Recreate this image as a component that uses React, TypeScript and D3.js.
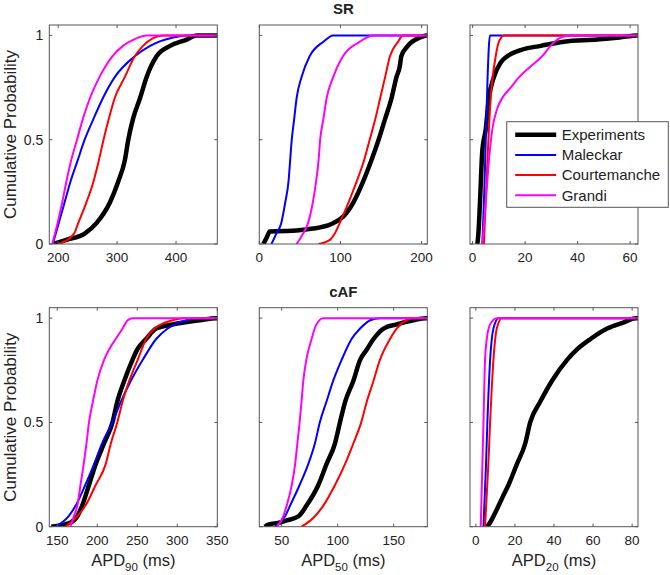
import React from "react";
import * as d3 from "d3";

type Pt = [number, number];

const seriesNames = ["Experiments", "Maleckar", "Courtemanche", "Grandi"];
const seriesColors = ["#000000", "#0000ff", "#ff0000", "#ff00ff"];
const probTicks = [0, 0.5, 1];
const probTickLabels = ["0", "0.5", "1"];
const rowTitles = ["SR", "cAF"];
const apdSubscripts = ["90", "50", "20"];
const yAxisTitle = "Cumulative Probability";

// x domains and ticks
const srApd90Domain = [185, 470];
const srApd90Ticks = [200, 300, 400];
const srApd50Domain = [0, 207];
const srApd50Ticks = [0, 100, 200];
const srApd20Domain = [-1, 63];
const srApd20Ticks = [0, 20, 40, 60];
const cafApd90Domain = [140, 350];
const cafApd90Ticks = [150, 200, 250, 300, 350];
const cafApd50Domain = [30, 180];
const cafApd50Ticks = [50, 100, 150];
const cafApd20Domain = [-3, 83];
const cafApd20Ticks = [0, 20, 40, 60, 80];

// SR APD90
const srApd90Exp: Pt[] = [[192, 0], [214, 0.02], [245, 0.05], [265, 0.1], [288, 0.2], [302, 0.3], [313, 0.4], [319, 0.5], [327, 0.6], [339, 0.7], [350, 0.8], [367, 0.9], [390, 0.95], [418, 0.98], [435, 1]];
const srApd90Mal: Pt[] = [[191, 0], [201, 0.1], [211, 0.2], [221, 0.3], [233, 0.4], [245, 0.5], [260, 0.6], [276, 0.7], [296, 0.8], [330, 0.9], [356, 0.95], [395, 0.99], [418, 1]];
const srApd90Cou: Pt[] = [[200, 0], [227, 0.05], [234, 0.1], [248, 0.2], [260, 0.3], [269, 0.4], [277, 0.5], [286, 0.6], [296, 0.7], [313, 0.8], [330, 0.9], [344, 0.95], [378, 1]];
const srApd90Gra: Pt[] = [[190, 0], [199, 0.1], [207, 0.2], [214, 0.3], [222, 0.4], [232, 0.5], [242, 0.6], [254, 0.7], [270, 0.8], [292, 0.9], [310, 0.95], [328, 0.98], [350, 1]];

// SR APD50
const srApd50Exp: Pt[] = [[5, 0], [9, 0.03], [13, 0.06], [30, 0.062], [46, 0.065], [58, 0.07], [75, 0.08], [91, 0.1], [103, 0.13], [116, 0.2], [128, 0.3], [138, 0.4], [147, 0.5], [155, 0.6], [163, 0.7], [169, 0.8], [173, 0.85], [175, 0.9], [183, 0.95], [198, 0.99], [206, 1]];
const srApd50Mal: Pt[] = [[15, 0], [21, 0.05], [27, 0.1], [32, 0.2], [36, 0.3], [38, 0.4], [40, 0.5], [43, 0.6], [46, 0.7], [52, 0.8], [62, 0.9], [79, 0.97], [91, 1]];
const srApd50Cou: Pt[] = [[73, 0], [87, 0.02], [93, 0.05], [99, 0.1], [110, 0.2], [120, 0.3], [129, 0.4], [136, 0.5], [143, 0.6], [149, 0.7], [155, 0.8], [161, 0.9], [171, 0.97], [177, 1]];
const srApd50Gra: Pt[] = [[46, 0], [54, 0.05], [60, 0.1], [66, 0.2], [70, 0.3], [73, 0.4], [75, 0.5], [79, 0.6], [83, 0.7], [91, 0.8], [103, 0.9], [124, 0.97], [140, 1]];

// SR APD20
const srApd20Exp: Pt[] = [[1.8, 0], [2.2, 0.05], [2.8, 0.2], [3.7, 0.45], [5, 0.55], [6.2, 0.7], [8.1, 0.8], [10.7, 0.87], [13.2, 0.9], [18.3, 0.93], [26, 0.95], [34.8, 0.97], [47.5, 0.98], [56, 0.99], [62.7, 1]];
const srApd20Mal: Pt[] = [[3.7, 0], [4.3, 0.2], [5, 0.5], [5.7, 0.8], [6.6, 1]];
const srApd20Cou: Pt[] = [[4.3, 0], [5.3, 0.3], [6, 0.5], [6.9, 0.7], [8.8, 0.9], [10, 0.97], [12, 1]];
const srApd20Gra: Pt[] = [[3.7, 0], [5, 0.2], [6.2, 0.4], [7.5, 0.55], [9.4, 0.65], [11.3, 0.7], [14.5, 0.75], [17.7, 0.8], [22, 0.85], [26.5, 0.9], [29.7, 0.95], [32.2, 0.98], [37, 1]];

// cAF APD90
const cafApd90Exp: Pt[] = [[142.5, 0], [166.5, 0.02], [175, 0.05], [181, 0.1], [189.6, 0.2], [198, 0.3], [208.5, 0.4], [219, 0.5], [225, 0.6], [233.7, 0.7], [244, 0.8], [250, 0.85], [261, 0.9], [273.6, 0.95], [294.6, 0.97], [328, 0.99], [349, 1]];
const cafApd90Mal: Pt[] = [[147.6, 0], [164, 0.05], [172.8, 0.1], [185, 0.2], [196, 0.3], [206, 0.4], [219, 0.5], [229.5, 0.6], [242, 0.7], [256.8, 0.8], [273.6, 0.9], [288, 0.95], [311, 0.99], [328, 1]];
const cafApd90Cou: Pt[] = [[160, 0], [175, 0.05], [185, 0.1], [198, 0.2], [210.5, 0.3], [217, 0.4], [225, 0.5], [231.6, 0.6], [240, 0.7], [250.5, 0.8], [261, 0.9], [271.5, 0.95], [294.6, 0.99], [307, 1]];
const cafApd90Gra: Pt[] = [[166.5, 0], [170.7, 0.05], [175, 0.1], [179, 0.2], [183, 0.3], [186.5, 0.4], [189.6, 0.5], [194.5, 0.6], [200, 0.7], [208.5, 0.8], [214.8, 0.85], [223, 0.9], [231.6, 0.95], [238, 0.99], [244, 1]];

// cAF APD50
const cafApd50Exp: Pt[] = [[35, 0], [38, 0.01], [48.5, 0.02], [54.4, 0.03], [65, 0.05], [72, 0.1], [82.7, 0.2], [90, 0.3], [97.6, 0.4], [102, 0.5], [106.7, 0.6], [114, 0.7], [120, 0.8], [126, 0.85], [132, 0.9], [141, 0.95], [152.6, 0.97], [167.5, 0.99], [179, 1]];
const cafApd50Mal: Pt[] = [[44, 0], [53, 0.05], [57.4, 0.1], [66, 0.2], [73.7, 0.3], [79.7, 0.4], [84, 0.5], [90, 0.6], [96, 0.7], [103.5, 0.8], [112.4, 0.9], [120, 0.95], [129, 0.99], [137.7, 1]];
const cafApd50Cou: Pt[] = [[67.8, 0], [79.7, 0.05], [87, 0.1], [97.6, 0.2], [106.5, 0.3], [114, 0.4], [121, 0.5], [126, 0.6], [132, 0.7], [137.7, 0.8], [146.7, 0.9], [152.6, 0.95], [161.5, 0.99], [167.5, 1]];
const cafApd50Gra: Pt[] = [[45.5, 0], [51.4, 0.05], [54.4, 0.1], [59, 0.2], [62, 0.3], [64, 0.4], [66, 0.5], [67.7, 0.6], [69.3, 0.7], [72, 0.8], [76.7, 0.9], [81, 0.97], [87, 1]];

// cAF APD20
const cafApd20Exp: Pt[] = [[5.6, 0], [7.3, 0.02], [9, 0.05], [11.6, 0.1], [14.1, 0.15], [16.7, 0.2], [21, 0.3], [25.3, 0.4], [27.8, 0.5], [33, 0.6], [39, 0.7], [46.7, 0.8], [51.8, 0.85], [58.7, 0.9], [67.2, 0.95], [75.8, 0.98], [81.8, 1]];
const cafApd20Mal: Pt[] = [[3.9, 0], [5.2, 0.3], [5.9, 0.5], [7.3, 0.8], [9, 0.95], [11.6, 1]];
const cafApd20Cou: Pt[] = [[4.7, 0], [6.4, 0.3], [7.3, 0.5], [9, 0.8], [10.7, 0.95], [13.3, 1]];
const cafApd20Gra: Pt[] = [[2.5, 0], [3.9, 0.5], [4.7, 0.8], [5.6, 0.9], [7.3, 0.97], [10.7, 1]];

const panelDomains = [srApd90Domain, srApd50Domain, srApd20Domain, cafApd90Domain, cafApd50Domain, cafApd20Domain];
const panelTicks = [srApd90Ticks, srApd50Ticks, srApd20Ticks, cafApd90Ticks, cafApd50Ticks, cafApd20Ticks];
const panelSeries = [
  [srApd90Exp, srApd90Mal, srApd90Cou, srApd90Gra],
  [srApd50Exp, srApd50Mal, srApd50Cou, srApd50Gra],
  [srApd20Exp, srApd20Mal, srApd20Cou, srApd20Gra],
  [cafApd90Exp, cafApd90Mal, cafApd90Cou, cafApd90Gra],
  [cafApd50Exp, cafApd50Mal, cafApd50Cou, cafApd50Gra],
  [cafApd20Exp, cafApd20Mal, cafApd20Cou, cafApd20Gra],
];

const W = 670;
const H = 575;
const colLeft = [49.3, 259.3, 470];
const rowTop = [25, 307.7];
const plotW = 168;
const plotH = 219;
const FONT = "'Liberation Sans', Arial, Helvetica, sans-serif";
const seriesWidths = [4.5, 2, 2, 2];
const axisColor = "#555";
const tickLen = 3;

function Panel({ idx }: { idx: number }) {
  const row = Math.floor(idx / 3);
  const col = idx % 3;
  const left = colLeft[col];
  const top = rowTop[row];
  const x = d3.scaleLinear().domain(panelDomains[idx]).range([left, left + plotW]);
  const y = d3.scaleLinear().domain([0, 1.05]).range([top + plotH, top]);
  const line = d3
    .line<Pt>()
    .x((d) => x(d[0]))
    .y((d) => y(d[1]))
    .curve(d3.curveMonotoneX);
  const clipId = `clip-${idx}`;
  const dom = panelDomains[idx];
  return (
    <g>
      <defs>
        <clipPath id={clipId}>
          <rect x={left} y={top} width={plotW} height={plotH} />
        </clipPath>
      </defs>
      <rect x={left} y={top} width={plotW} height={plotH} fill="#fff" />
      <g clipPath={`url(#${clipId})`}>
        {panelSeries[idx].map((pts, i) => (
          <path
            key={i}
            d={line([...pts, [dom[1] + 5, 1]]) || ""}
            fill="none"
            stroke={seriesColors[i]}
            strokeWidth={seriesWidths[i]}
            strokeLinejoin="round"
          />
        ))}
      </g>
      <rect x={left} y={top} width={plotW} height={plotH} fill="none" stroke={axisColor} strokeWidth={1} />
      {panelTicks[idx].map((t) => (
        <g key={`xt${t}`}>
          <line x1={x(t)} x2={x(t)} y1={top + plotH} y2={top + plotH - tickLen} stroke={axisColor} />
          <line x1={x(t)} x2={x(t)} y1={top} y2={top + tickLen} stroke={axisColor} />
          <text x={x(t)} y={top + plotH + 18} textAnchor="middle" fontSize={13.5} fontFamily={FONT} fill="#222">
            {t}
          </text>
        </g>
      ))}
      {probTicks.map((p, i) => (
        <g key={`yt${p}`}>
          <line x1={left} x2={left + tickLen} y1={y(p)} y2={y(p)} stroke={axisColor} />
          <line x1={left + plotW} x2={left + plotW - tickLen} y1={y(p)} y2={y(p)} stroke={axisColor} />
          {col === 0 && (
            <text x={left - 6} y={y(p) + 5} textAnchor="end" fontSize={14} fontFamily={FONT} fill="#222">
              {probTickLabels[i]}
            </text>
          )}
        </g>
      ))}
      {col === 0 && (
        <text
          transform={`translate(${16},${top + plotH / 2}) rotate(-90)`}
          textAnchor="middle"
          fontSize={17}
          fontFamily={FONT}
          fill="#222"
        >
          {yAxisTitle}
        </text>
      )}
      {col === 1 && (
        <text x={left + plotW / 2} y={top - 11} textAnchor="middle" fontSize={15} fontWeight="bold" fontFamily={FONT} fill="#222">
          {rowTitles[row]}
        </text>
      )}
      {row === 1 && (
        <text x={left + plotW / 2} y={top + plotH + 39} textAnchor="middle" fontSize={16.5} fontFamily={FONT} fill="#222">
          APD
          <tspan fontSize={11.5} dy={5}>{apdSubscripts[col]}</tspan>
          <tspan dy={-5}> (ms)</tspan>
        </text>
      )}
    </g>
  );
}

function Legend() {
  const lx = 506.7;
  const ly = 121.7;
  const lw = 161.6;
  const lh = 85.6;
  return (
    <g>
      <rect x={lx} y={ly} width={lw} height={lh} fill="#fff" stroke={axisColor} strokeWidth={1} />
      {seriesNames.map((name, i) => {
        const cy = ly + 13 + i * 20.2;
        return (
          <g key={name}>
            <line x1={lx + 8.5} x2={lx + 49.5} y1={cy} y2={cy} stroke={seriesColors[i]} strokeWidth={seriesWidths[i]} />
            <text x={lx + 55} y={cy + 5.3} fontSize={15} fontFamily={FONT} fill="#222">
              {name}
            </text>
          </g>
        );
      })}
    </g>
  );
}

export default function App() {
  return (
    <svg width={W} height={H} style={{ position: "absolute", left: 0, top: 0, background: "#fff" }}>
      <rect x={0} y={0} width={W} height={H} fill="#fff" />
      {d3.range(6).map((i) => (
        <Panel key={i} idx={i} />
      ))}
      <Legend />
    </svg>
  );
}
